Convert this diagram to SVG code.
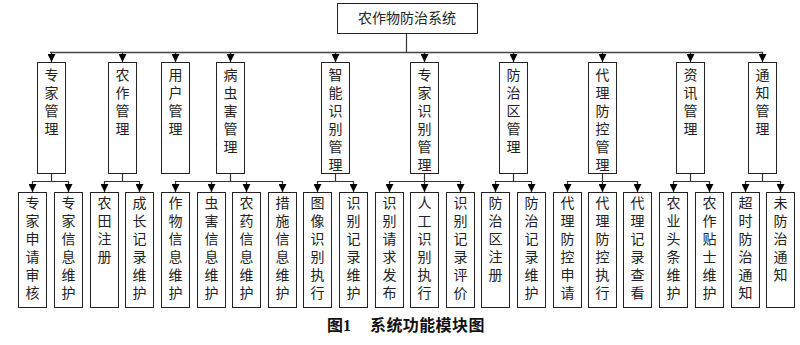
<svg xmlns="http://www.w3.org/2000/svg" width="800" height="345" viewBox="0 0 800 345">
<style>
.box{fill:#fff;stroke:#222;stroke-width:1}
.ln{fill:none;stroke:#333;stroke-width:1.2}
.bus{fill:none;stroke:#444;stroke-width:1.6}
.t{font-family:"Liberation Serif","Noto Sans CJK SC",serif;font-size:14px;fill:#222;text-anchor:middle}
.cap{font-family:"Liberation Serif","Noto Sans CJK SC",serif;font-size:16px;font-weight:bold;fill:#111}
</style>
<defs>
<marker id="ah" viewBox="0 0 8 8" refX="8" refY="4" markerWidth="8" markerHeight="8" markerUnits="userSpaceOnUse" orient="auto">
<path d="M0,0 L8,4 L0,8 z" fill="#000"/>
</marker>
</defs>
<rect width="800" height="345" fill="#fff"/>
<g id="connectors">
<path class="ln" d="M406.5,33 V52"/>
<path class="bus" d="M50,52.5 H763"/>
<g class="ln" marker-end="url(#ah)">
<line x1="51.5" y1="52" x2="51.5" y2="62"/>
<line x1="122.5" y1="52" x2="122.5" y2="62"/>
<line x1="175.5" y1="52" x2="175.5" y2="62"/>
<line x1="230.5" y1="52" x2="230.5" y2="62"/>
<line x1="335.5" y1="52" x2="335.5" y2="62"/>
<line x1="424.5" y1="52" x2="424.5" y2="62"/>
<line x1="513.5" y1="52" x2="513.5" y2="62"/>
<line x1="602.5" y1="52" x2="602.5" y2="62"/>
<line x1="690.5" y1="52" x2="690.5" y2="62"/>
<line x1="762.5" y1="52" x2="762.5" y2="62"/>
</g>
<path class="ln" d="M51.5,173 V181.5 M32.5,181.5 H68.5 M122.5,173 V181.5 M104.5,181.5 H139.5 M230.5,173 V181.5 M175.5,181.5 H282.5 M335.5,173 V181.5 M317.5,181.5 H353.5 M424.5,173 V181.5 M389.5,181.5 H460.5 M513.5,173 V181.5 M495.5,181.5 H531.5 M602.5,173 V181.5 M567.5,181.5 H637.5 M690.5,173 V181.5 M673.5,181.5 H709.5 M762.5,173 V181.5 M745.5,181.5 H780.5"/>
<g class="ln" marker-end="url(#ah)">
<line x1="32.5" y1="181" x2="32.5" y2="192"/>
<line x1="68.5" y1="181" x2="68.5" y2="192"/>
<line x1="104.5" y1="181" x2="104.5" y2="192"/>
<line x1="139.5" y1="181" x2="139.5" y2="192"/>
<line x1="175.5" y1="181" x2="175.5" y2="192"/>
<line x1="211.5" y1="181" x2="211.5" y2="192"/>
<line x1="246.5" y1="181" x2="246.5" y2="192"/>
<line x1="282.5" y1="181" x2="282.5" y2="192"/>
<line x1="317.5" y1="181" x2="317.5" y2="192"/>
<line x1="353.5" y1="181" x2="353.5" y2="192"/>
<line x1="389.5" y1="181" x2="389.5" y2="192"/>
<line x1="424.5" y1="181" x2="424.5" y2="192"/>
<line x1="460.5" y1="181" x2="460.5" y2="192"/>
<line x1="495.5" y1="181" x2="495.5" y2="192"/>
<line x1="531.5" y1="181" x2="531.5" y2="192"/>
<line x1="567.5" y1="181" x2="567.5" y2="192"/>
<line x1="602.5" y1="181" x2="602.5" y2="192"/>
<line x1="637.5" y1="181" x2="637.5" y2="192"/>
<line x1="673.5" y1="181" x2="673.5" y2="192"/>
<line x1="709.5" y1="181" x2="709.5" y2="192"/>
<line x1="745.5" y1="181" x2="745.5" y2="192"/>
<line x1="780.5" y1="181" x2="780.5" y2="192"/>
</g>
</g>
<g id="root"><rect class="box" x="337.5" y="3.5" width="140" height="30"/><text class="t" x="407" y="23">农作物防治系统</text></g>

<g id="n-zjgl"><rect class="box" x="37.5" y="62.5" width="28" height="111"/><text class="t"><tspan x="51.5" y="80">专</tspan><tspan x="51.5" y="98">家</tspan><tspan x="51.5" y="116">管</tspan><tspan x="51.5" y="134">理</tspan></text></g>
<g id="n-nzgl"><rect class="box" x="108.5" y="62.5" width="28" height="111"/><text class="t"><tspan x="122.5" y="80">农</tspan><tspan x="122.5" y="98">作</tspan><tspan x="122.5" y="116">管</tspan><tspan x="122.5" y="134">理</tspan></text></g>
<g id="n-yhgl"><rect class="box" x="161.5" y="62.5" width="28" height="111"/><text class="t"><tspan x="175.5" y="80">用</tspan><tspan x="175.5" y="98">户</tspan><tspan x="175.5" y="116">管</tspan><tspan x="175.5" y="134">理</tspan></text></g>
<g id="n-bchgl"><rect class="box" x="216.5" y="62.5" width="28" height="111"/><text class="t"><tspan x="230.5" y="80">病</tspan><tspan x="230.5" y="98">虫</tspan><tspan x="230.5" y="116">害</tspan><tspan x="230.5" y="134">管</tspan><tspan x="230.5" y="152">理</tspan></text></g>
<g id="n-znsbgl"><rect class="box" x="321.5" y="62.5" width="28" height="111"/><text class="t"><tspan x="335.5" y="80">智</tspan><tspan x="335.5" y="98">能</tspan><tspan x="335.5" y="116">识</tspan><tspan x="335.5" y="134">别</tspan><tspan x="335.5" y="152">管</tspan><tspan x="335.5" y="170">理</tspan></text></g>
<g id="n-zjsbgl"><rect class="box" x="410.5" y="62.5" width="28" height="111"/><text class="t"><tspan x="424.5" y="80">专</tspan><tspan x="424.5" y="98">家</tspan><tspan x="424.5" y="116">识</tspan><tspan x="424.5" y="134">别</tspan><tspan x="424.5" y="152">管</tspan><tspan x="424.5" y="170">理</tspan></text></g>
<g id="n-fzqgl"><rect class="box" x="499.5" y="62.5" width="28" height="111"/><text class="t"><tspan x="513.5" y="80">防</tspan><tspan x="513.5" y="98">治</tspan><tspan x="513.5" y="116">区</tspan><tspan x="513.5" y="134">管</tspan><tspan x="513.5" y="152">理</tspan></text></g>
<g id="n-dlfkgl"><rect class="box" x="588.5" y="62.5" width="28" height="111"/><text class="t"><tspan x="602.5" y="80">代</tspan><tspan x="602.5" y="98">理</tspan><tspan x="602.5" y="116">防</tspan><tspan x="602.5" y="134">控</tspan><tspan x="602.5" y="152">管</tspan><tspan x="602.5" y="170">理</tspan></text></g>
<g id="n-zxgl"><rect class="box" x="676.5" y="62.5" width="28" height="111"/><text class="t"><tspan x="690.5" y="80">资</tspan><tspan x="690.5" y="98">讯</tspan><tspan x="690.5" y="116">管</tspan><tspan x="690.5" y="134">理</tspan></text></g>
<g id="n-tzgl"><rect class="box" x="748.5" y="62.5" width="28" height="111"/><text class="t"><tspan x="762.5" y="80">通</tspan><tspan x="762.5" y="98">知</tspan><tspan x="762.5" y="116">管</tspan><tspan x="762.5" y="134">理</tspan></text></g>

<g id="c01"><rect class="box" x="18.5" y="192.5" width="28" height="115"/><text class="t"><tspan x="32.5" y="208">专</tspan><tspan x="32.5" y="226">家</tspan><tspan x="32.5" y="244">申</tspan><tspan x="32.5" y="262">请</tspan><tspan x="32.5" y="280">审</tspan><tspan x="32.5" y="298">核</tspan></text></g>
<g id="c02"><rect class="box" x="54.5" y="192.5" width="28" height="115"/><text class="t"><tspan x="68.5" y="208">专</tspan><tspan x="68.5" y="226">家</tspan><tspan x="68.5" y="244">信</tspan><tspan x="68.5" y="262">息</tspan><tspan x="68.5" y="280">维</tspan><tspan x="68.5" y="298">护</tspan></text></g>
<g id="c03"><rect class="box" x="90.5" y="192.5" width="28" height="115"/><text class="t"><tspan x="104.5" y="208">农</tspan><tspan x="104.5" y="226">田</tspan><tspan x="104.5" y="244">注</tspan><tspan x="104.5" y="262">册</tspan></text></g>
<g id="c04"><rect class="box" x="125.5" y="192.5" width="28" height="115"/><text class="t"><tspan x="139.5" y="208">成</tspan><tspan x="139.5" y="226">长</tspan><tspan x="139.5" y="244">记</tspan><tspan x="139.5" y="262">录</tspan><tspan x="139.5" y="280">维</tspan><tspan x="139.5" y="298">护</tspan></text></g>
<g id="c05"><rect class="box" x="161.5" y="192.5" width="28" height="115"/><text class="t"><tspan x="175.5" y="208">作</tspan><tspan x="175.5" y="226">物</tspan><tspan x="175.5" y="244">信</tspan><tspan x="175.5" y="262">息</tspan><tspan x="175.5" y="280">维</tspan><tspan x="175.5" y="298">护</tspan></text></g>
<g id="c06"><rect class="box" x="197.5" y="192.5" width="28" height="115"/><text class="t"><tspan x="211.5" y="208">虫</tspan><tspan x="211.5" y="226">害</tspan><tspan x="211.5" y="244">信</tspan><tspan x="211.5" y="262">息</tspan><tspan x="211.5" y="280">维</tspan><tspan x="211.5" y="298">护</tspan></text></g>
<g id="c07"><rect class="box" x="232.5" y="192.5" width="28" height="115"/><text class="t"><tspan x="246.5" y="208">农</tspan><tspan x="246.5" y="226">药</tspan><tspan x="246.5" y="244">信</tspan><tspan x="246.5" y="262">息</tspan><tspan x="246.5" y="280">维</tspan><tspan x="246.5" y="298">护</tspan></text></g>
<g id="c08"><rect class="box" x="268.5" y="192.5" width="28" height="115"/><text class="t"><tspan x="282.5" y="208">措</tspan><tspan x="282.5" y="226">施</tspan><tspan x="282.5" y="244">信</tspan><tspan x="282.5" y="262">息</tspan><tspan x="282.5" y="280">维</tspan><tspan x="282.5" y="298">护</tspan></text></g>
<g id="c09"><rect class="box" x="303.5" y="192.5" width="28" height="115"/><text class="t"><tspan x="317.5" y="208">图</tspan><tspan x="317.5" y="226">像</tspan><tspan x="317.5" y="244">识</tspan><tspan x="317.5" y="262">别</tspan><tspan x="317.5" y="280">执</tspan><tspan x="317.5" y="298">行</tspan></text></g>
<g id="c10"><rect class="box" x="339.5" y="192.5" width="28" height="115"/><text class="t"><tspan x="353.5" y="208">识</tspan><tspan x="353.5" y="226">别</tspan><tspan x="353.5" y="244">记</tspan><tspan x="353.5" y="262">录</tspan><tspan x="353.5" y="280">维</tspan><tspan x="353.5" y="298">护</tspan></text></g>
<g id="c11"><rect class="box" x="375.5" y="192.5" width="28" height="115"/><text class="t"><tspan x="389.5" y="208">识</tspan><tspan x="389.5" y="226">别</tspan><tspan x="389.5" y="244">请</tspan><tspan x="389.5" y="262">求</tspan><tspan x="389.5" y="280">发</tspan><tspan x="389.5" y="298">布</tspan></text></g>
<g id="c12"><rect class="box" x="410.5" y="192.5" width="28" height="115"/><text class="t"><tspan x="424.5" y="208">人</tspan><tspan x="424.5" y="226">工</tspan><tspan x="424.5" y="244">识</tspan><tspan x="424.5" y="262">别</tspan><tspan x="424.5" y="280">执</tspan><tspan x="424.5" y="298">行</tspan></text></g>
<g id="c13"><rect class="box" x="446.5" y="192.5" width="28" height="115"/><text class="t"><tspan x="460.5" y="208">识</tspan><tspan x="460.5" y="226">别</tspan><tspan x="460.5" y="244">记</tspan><tspan x="460.5" y="262">录</tspan><tspan x="460.5" y="280">评</tspan><tspan x="460.5" y="298">价</tspan></text></g>
<g id="c14"><rect class="box" x="481.5" y="192.5" width="28" height="115"/><text class="t"><tspan x="495.5" y="208">防</tspan><tspan x="495.5" y="226">治</tspan><tspan x="495.5" y="244">区</tspan><tspan x="495.5" y="262">注</tspan><tspan x="495.5" y="280">册</tspan></text></g>
<g id="c15"><rect class="box" x="517.5" y="192.5" width="28" height="115"/><text class="t"><tspan x="531.5" y="208">防</tspan><tspan x="531.5" y="226">治</tspan><tspan x="531.5" y="244">记</tspan><tspan x="531.5" y="262">录</tspan><tspan x="531.5" y="280">维</tspan><tspan x="531.5" y="298">护</tspan></text></g>
<g id="c16"><rect class="box" x="553.5" y="192.5" width="28" height="115"/><text class="t"><tspan x="567.5" y="208">代</tspan><tspan x="567.5" y="226">理</tspan><tspan x="567.5" y="244">防</tspan><tspan x="567.5" y="262">控</tspan><tspan x="567.5" y="280">申</tspan><tspan x="567.5" y="298">请</tspan></text></g>
<g id="c17"><rect class="box" x="588.5" y="192.5" width="28" height="115"/><text class="t"><tspan x="602.5" y="208">代</tspan><tspan x="602.5" y="226">理</tspan><tspan x="602.5" y="244">防</tspan><tspan x="602.5" y="262">控</tspan><tspan x="602.5" y="280">执</tspan><tspan x="602.5" y="298">行</tspan></text></g>
<g id="c18"><rect class="box" x="623.5" y="192.5" width="28" height="115"/><text class="t"><tspan x="637.5" y="208">代</tspan><tspan x="637.5" y="226">理</tspan><tspan x="637.5" y="244">记</tspan><tspan x="637.5" y="262">录</tspan><tspan x="637.5" y="280">查</tspan><tspan x="637.5" y="298">看</tspan></text></g>
<g id="c19"><rect class="box" x="659.5" y="192.5" width="28" height="115"/><text class="t"><tspan x="673.5" y="208">农</tspan><tspan x="673.5" y="226">业</tspan><tspan x="673.5" y="244">头</tspan><tspan x="673.5" y="262">条</tspan><tspan x="673.5" y="280">维</tspan><tspan x="673.5" y="298">护</tspan></text></g>
<g id="c20"><rect class="box" x="695.5" y="192.5" width="28" height="115"/><text class="t"><tspan x="709.5" y="208">农</tspan><tspan x="709.5" y="226">作</tspan><tspan x="709.5" y="244">贴</tspan><tspan x="709.5" y="262">士</tspan><tspan x="709.5" y="280">维</tspan><tspan x="709.5" y="298">护</tspan></text></g>
<g id="c21"><rect class="box" x="731.5" y="192.5" width="28" height="115"/><text class="t"><tspan x="745.5" y="208">超</tspan><tspan x="745.5" y="226">时</tspan><tspan x="745.5" y="244">防</tspan><tspan x="745.5" y="262">治</tspan><tspan x="745.5" y="280">通</tspan><tspan x="745.5" y="298">知</tspan></text></g>
<g id="c22"><rect class="box" x="766.5" y="192.5" width="28" height="115"/><text class="t"><tspan x="780.5" y="208">未</tspan><tspan x="780.5" y="226">防</tspan><tspan x="780.5" y="244">治</tspan><tspan x="780.5" y="262">通</tspan><tspan x="780.5" y="280">知</tspan></text></g>

<g id="caption"><text class="cap" x="327" y="331">图1</text><text class="cap" x="370" y="331" letter-spacing="0.4">系统功能模块图</text></g>
</svg>
